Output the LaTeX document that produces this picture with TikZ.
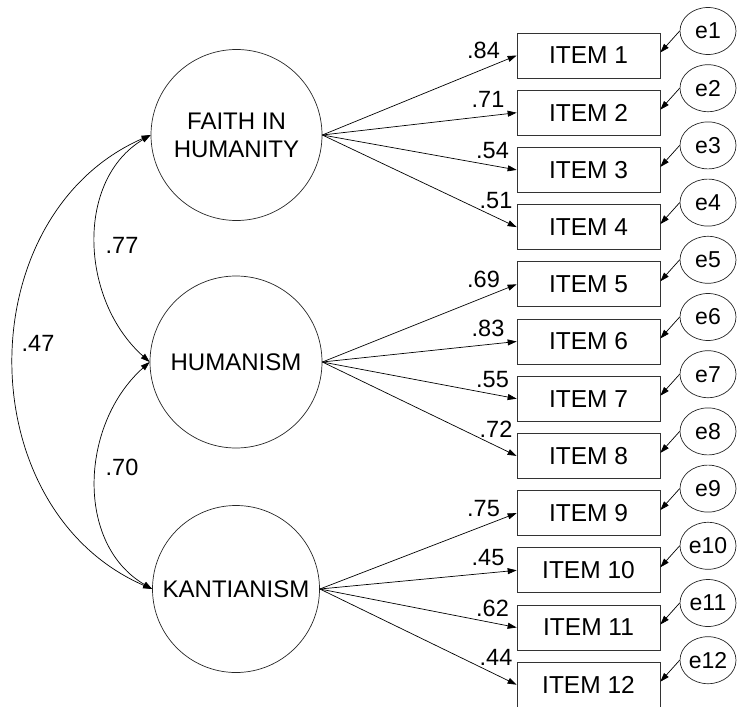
\documentclass[tikz,border=0pt]{standalone}
\usepackage{fontspec}
\setmainfont{Liberation Sans}
\usetikzlibrary{arrows.meta,shapes.geometric}
\begin{document}
\begin{tikzpicture}[x=1pt,y=-1pt,
  lat/.style={circle,draw=black!85,line width=0.7pt,inner sep=0pt,font=\fontsize{24}{28}\selectfont,align=center},
  obs/.style={rectangle,draw=black!80,line width=0.7pt,minimum width=143pt,minimum height=45pt,inner sep=0pt,font=\fontsize{24.5}{28}\selectfont},
  err/.style={ellipse,draw=black!85,line width=0.7pt,minimum width=56pt,minimum height=47pt,inner sep=0pt,font=\fontsize{23}{26}\selectfont},
  lbl/.style={font=\fontsize{23.5}{26}\selectfont,inner sep=0pt},
  arr/.style={line width=0.7pt,-{Triangle[length=9pt,width=6pt]}},
  cov/.style={line width=0.7pt,{Triangle[length=9pt,width=6pt]}-{Triangle[length=9pt,width=6pt]}}]
\useasboundingbox (0,0) rectangle (738,706);

% latent factors
\node[lat,minimum size=171pt] (F) at (236.5,135) {FAITH IN\\HUMANITY};
\node[lat,minimum size=172pt] (H) at (236,362) {HUMANISM};
\node[lat,minimum size=167pt] (K) at (236,589) {KANTIANISM};

% items and errors
\foreach \i in {1,...,12} {
  \pgfmathsetmacro\cy{55.5+57.2*(\i-1)}
  \node[obs] (i\i) at (588.5,\cy) {ITEM \i};
  \node[err] (e\i) at (708,\cy-24.5) {e\i};
  \draw[arr] (e\i.west) -- ([yshift=3pt]i\i.east);
}

% loadings
\foreach \f/\a/\b/\c/\d in {F/1/2/3/4,H/5/6/7/8,K/9/10/11/12} {
  \foreach \j in {\a,\b,\c,\d} {
    \draw[arr] (\f.east) -- (i\j.west);
  }
}

% loading labels
\foreach \j/\v in {1/.84,2/.71,3/.54,4/.51,5/.69,6/.83,7/.55,8/.72,9/.75,10/.45,11/.62,12/.44} {
  \pgfmathtruncatemacro\k{mod(\j-1,4)}
  \pgfmathsetmacro\cy{55.5+57.2*(\j-1)}
  \pgfmathsetmacro\lx{\k==0 ? 483.5 : (\k==1 ? 488 : (\k==2 ? 492.5 : 496))}
  \pgfmathsetmacro\ly{\cy + (\k==0 ? -5 : (\k==1 ? -13 : (\k==2 ? -19 : -27)))}
  \node[lbl] (l\j) at (\lx,\ly) {\v};
}

% covariances
\draw[cov] (F.west) .. controls (75,180) and (80,300) .. (H.west);
\draw[cov] (H.west) .. controls (80,424) and (75,544) .. (K.west);
\draw[cov] (F.west) .. controls (-32,215) and (-32,509) .. (K.west);
\node[lbl] (c1) at (122,245) {.77};
\node[lbl] (c2) at (122,467) {.70};
\node[lbl] (c3) at (38,343) {.47};
\end{tikzpicture}
\end{document}
